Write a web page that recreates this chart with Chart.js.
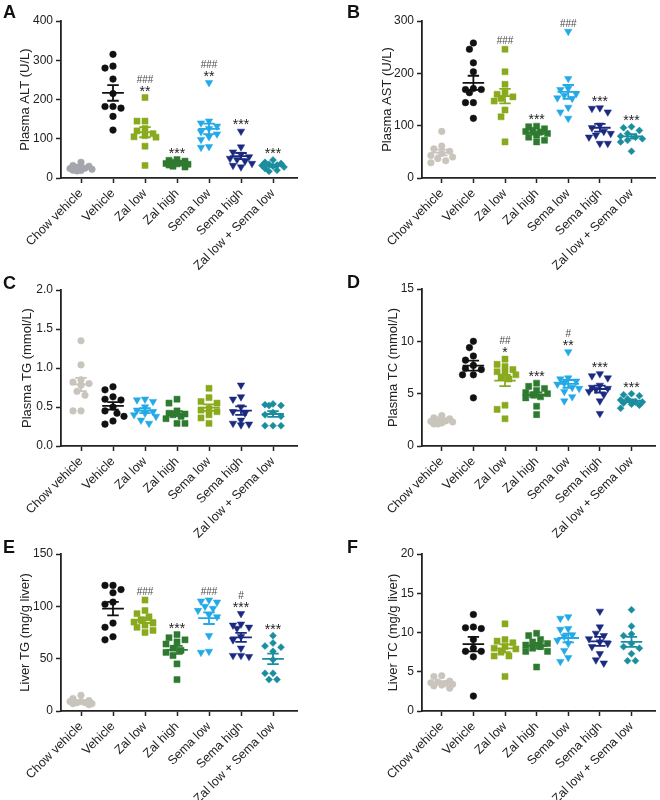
<!DOCTYPE html>
<html><head><meta charset="utf-8">
<script src="https://cdn.jsdelivr.net/npm/chart.js@4.4.0/dist/chart.umd.min.js"></script>
<style>
html,body{margin:0;padding:0;background:#fff}
body{width:660px;height:800px;position:relative;overflow:hidden;font-family:'Liberation Sans',Arial,sans-serif}
.panel{position:absolute}
.letter{position:absolute;font-weight:bold;font-size:18px;line-height:18px;color:#111;font-family:'Liberation Sans',Arial,sans-serif}
</style></head><body>
<script>
// ---------- DATA ----------
const groups = ["Chow vehicle","Vehicle","Zal low","Zal high","Sema low","Sema high","Zal low + Sema low"];

const plasmaALT = [
  [40, 32, 28, 25, 22, 20, 19, 18, 24, 30, 27],
  [315, 285, 280, 252, 215, 182, 182, 178, 157, 122],
  [205, 145, 145, 126, 120, 113, 108, 105, 104, 81, 32],
  [47, 45, 43, 40, 38, 37, 36, 35, 33, 30, 28],
  [243, 145, 140, 132, 126, 118, 112, 105, 98, 80, 78],
  [119, 79, 66, 60, 54, 50, 47, 43, 37, 32, 28],
  [46, 40, 37, 35, 33, 32, 30, 28, 24, 20, 17]
];
const plasmaAST = [
  [89, 61, 56, 51, 47, 43, 40, 37, 33, 29],
  [258, 246, 220, 203, 169, 169, 171, 163, 144, 144, 114],
  [246, 203, 179, 163, 160, 155, 152, 147, 130, 117, 69],
  [99, 98, 94, 91, 89, 88, 85, 82, 78, 72, 69],
  [280, 190, 171, 169, 161, 158, 153, 152, 135, 126, 114],
  [134, 133, 126, 101, 96, 89, 85, 82, 78, 66, 66],
  [98, 96, 91, 85, 80, 78, 75, 72, 69, 51]
];
const plasmaTG = [
  [1.35, 1.04, 0.85, 0.82, 0.80, 0.78, 0.70, 0.65, 0.45, 0.45],
  [0.76, 0.72, 0.63, 0.60, 0.59, 0.50, 0.45, 0.42, 0.38, 0.32, 0.28],
  [0.60, 0.59, 0.57, 0.50, 0.46, 0.44, 0.42, 0.40, 0.38, 0.33, 0.29],
  [0.60, 0.55, 0.45, 0.42, 0.41, 0.40, 0.38, 0.35, 0.29, 0.29],
  [0.74, 0.62, 0.57, 0.55, 0.48, 0.46, 0.44, 0.40, 0.36, 0.29],
  [0.78, 0.63, 0.60, 0.50, 0.44, 0.42, 0.33, 0.29, 0.28, 0.27],
  [0.54, 0.53, 0.52, 0.52, 0.43, 0.40, 0.38, 0.26, 0.26, 0.26]
];
const plasmaTC = [
  [2.9, 2.7, 2.6, 2.5, 2.4, 2.35, 2.3, 2.2, 2.1, 2.1],
  [10.0, 9.4, 8.6, 8.2, 7.7, 7.4, 7.3, 6.8, 6.8, 4.6],
  [8.3, 7.8, 7.6, 7.3, 7.1, 7.1, 6.8, 6.6, 6.4, 3.9, 3.5, 2.6],
  [6.0, 5.7, 5.5, 5.3, 5.1, 5.0, 4.9, 4.7, 4.6, 3.8, 3.0],
  [9.0, 6.5, 6.4, 6.2, 6.0, 5.9, 5.6, 5.5, 5.2, 4.7, 4.3],
  [6.9, 6.7, 6.5, 5.8, 5.6, 5.5, 5.4, 5.2, 4.9, 4.3, 3.1],
  [5.0, 4.9, 4.8, 4.5, 4.4, 4.2, 4.2, 4.1, 4.0, 3.9, 3.6]
];
const liverTG = [
  [15, 12, 10, 9, 9, 8, 8, 7, 7, 6],
  [120, 120, 116, 113, 104, 102, 84, 80, 71, 68],
  [106, 96, 93, 90, 87, 85, 84, 82, 80, 77, 75],
  [73, 70, 68, 66, 64, 60, 58, 56, 53, 45, 30],
  [106, 105, 104, 100, 98, 96, 92, 90, 72, 57, 56],
  [93, 83, 82, 80, 79, 71, 68, 60, 53, 53, 52],
  [72, 65, 62, 61, 57, 49, 36, 36, 30, 30]
];
const liverTC = [
  [4.5, 4.4, 3.8, 3.7, 3.6, 3.5, 3.4, 3.3, 3.2, 2.9],
  [12.3, 10.7, 10.6, 10.5, 9.1, 8.0, 7.6, 7.6, 6.9, 1.9],
  [11.1, 9.1, 8.9, 8.7, 8.2, 8.0, 7.9, 7.5, 7.0, 7.0, 4.4],
  [9.9, 9.6, 9.1, 8.8, 8.6, 8.4, 8.2, 8.0, 7.6, 7.6, 5.6],
  [12.0, 11.8, 10.5, 10.4, 9.7, 9.5, 9.0, 8.6, 7.7, 6.8, 6.3],
  [12.7, 10.7, 9.9, 9.6, 9.2, 8.8, 8.6, 8.2, 7.3, 6.5, 6.1],
  [12.9, 10.8, 9.8, 9.6, 8.6, 8.2, 8.0, 7.3, 6.4, 6.4]
];

const hashALT = ["", "", "###", "", "###", "", ""];
const starALT = ["", "", "**", "***", "**", "***", "***"];
const hashAST = ["", "", "###", "", "###", "", ""];
const starAST = ["", "", "", "***", "", "***", "***"];
const hashTG  = ["", "", "", "", "", "", ""];
const starTG  = ["", "", "", "", "", "", ""];
const hashTC  = ["", "", "##", "", "#", "", ""];
const starTC  = ["", "", "*", "***", "**", "***", "***"];
const hashLTG = ["", "", "###", "", "###", "#", ""];
const starLTG = ["", "", "", "***", "", "***", "***"];
const hashLTC = ["", "", "", "", "", "", ""];
const starLTC = ["", "", "", "", "", "", ""];

// ---------- STYLES ----------
const FONT = "'Liberation Sans', Arial, sans-serif";
const groupColors = ['#c9c4bc', '#111111', '#8aaa1e', '#2e7a30', '#22a9e6', '#1b2a80', '#1a8e9f'];
const groupShapes = ['circle', 'circle', 'rect', 'rect', 'triangle', 'triangle', 'rectRot'];
const shapeRadius = {circle: 3.3, rect: 4.3, triangle: 4.3, rectRot: 3.5};

const panels = [
  {letter:'A', values:plasmaALT, hash:hashALT, star:starALT, title:'Plasma ALT (U/L)', yMax:400, step:100, dec:0,
   left:0, top:0, axisX:61, areaTop:21, areaBottom:178, areaRight:297, titleX:25, chowColor:'#a5a5ac', styleMap:[0,1,2,3,4,5,6]},
  {letter:'B', values:plasmaAST, hash:hashAST, star:starAST, title:'Plasma AST (U/L)', yMax:300, step:100, dec:0,
   left:330, top:0, axisX:92, areaTop:21, areaBottom:178, areaRight:328, titleX:57, styleMap:[0,1,2,3,4,5,6]},
  {letter:'C', values:plasmaTG, hash:hashTG, star:starTG, title:'Plasma TG (mmol/L)', yMax:2, step:0.5, dec:1,
   left:0, top:260, axisX:61, areaTop:30, areaBottom:186, areaRight:297, titleX:27, styleMap:[0,1,4,3,2,5,6]},
  {letter:'D', values:plasmaTC, hash:hashTC, star:starTC, title:'Plasma TC (mmol/L)', yMax:15, step:5, dec:0,
   left:330, top:260, axisX:92, areaTop:29, areaBottom:186, areaRight:328, titleX:63, styleMap:[0,1,2,3,4,5,6]},
  {letter:'E', values:liverTG, hash:hashLTG, star:starLTG, title:'Liver TG (mg/g liver)', yMax:150, step:50, dec:0,
   left:0, top:520, axisX:61, areaTop:34, areaBottom:191, areaRight:297, titleX:25, styleMap:[0,1,2,3,4,5,6]},
  {letter:'F', values:liverTC, hash:hashLTC, star:starLTC, title:'Liver TC (mg/g liver)', yMax:20, step:5, dec:0,
   left:330, top:520, axisX:92, areaTop:34, areaBottom:191, areaRight:328, titleX:63, styleMap:[0,1,2,3,4,5,6]}
];

const CW = 330, CH = 280;
const X_MIN = -0.625, X_MAX = 6.75;

function mean(a){ return a.reduce((s,v)=>s+v,0)/a.length; }
function sem(a){ const m=mean(a); const v=a.reduce((s,x)=>s+(x-m)*(x-m),0)/(a.length-1); return Math.sqrt(v/a.length); }

// simple beeswarm: horizontal offsets (in category units) so markers don't overlap
function swarm(vals, pxPerUnitY, pxPerCat){
  const D = 7.2;
  const order = vals.map((v,i)=>i).sort((a,b)=>vals[b]-vals[a]);
  const cands = [0,-4,4,-8,8,-11,11];
  const placed = [], off = new Array(vals.length).fill(0);
  for (const i of order){
    const y = vals[i]*pxPerUnitY;
    let chosen = null, bestC = 0, bestD = -1;
    for (const c of cands){
      let md = Infinity;
      for (const p of placed) md = Math.min(md, Math.hypot(p.x-c, p.y-y));
      if (md >= D){ chosen = c; break; }
      if (md > bestD){ bestD = md; bestC = c; }
    }
    if (chosen === null) chosen = bestC;
    placed.push({x:chosen, y});
    off[i] = chosen/pxPerCat;
  }
  return off;
}

const sigPlugin = {
  id:'sig',
  afterDatasetsDraw(chart, args, opts){
    const p = opts.panel; if (!p) return;
    const ctx = chart.ctx, xs = chart.scales.x, ys = chart.scales.y;
    ctx.save();
    ctx.textAlign = 'center';
    ctx.textBaseline = 'alphabetic';
    p.values.forEach((vals, i) => {
      const st = p.star[i], hs = p.hash[i];
      if (!st && !hs) return;
      const x = xs.getPixelForValue(i);
      const topY = ys.getPixelForValue(Math.max(...vals));
      let cy = topY - 10;
      if (st){
        ctx.font = '14px ' + FONT; ctx.fillStyle = '#222';
        ctx.fillText(st, x, cy + 8);
        cy -= 8.5;
      } else {
        cy += 1.5;
      }
      if (hs){
        ctx.font = '10px ' + FONT; ctx.fillStyle = '#4a4a4a';
        ctx.fillText(hs, x, cy + 3.6);
      }
    });
    ctx.restore();
  }
};

panels.forEach(p => {
  const div = document.createElement('div');
  div.className = 'panel';
  div.style.left = p.left + 'px'; div.style.top = p.top + 'px';
  div.style.width = CW + 'px'; div.style.height = CH + 'px';
  const cv = document.createElement('canvas');
  cv.width = CW; cv.height = CH;
  cv.style.width = CW + 'px'; cv.style.height = CH + 'px';
  div.appendChild(cv);
  document.body.appendChild(div);

  const lt = document.createElement('div');
  lt.className = 'letter';
  lt.textContent = p.letter;
  lt.style.left = (p.left + (p.left ? 17 : 3)) + 'px';
  lt.style.top = (p.top + (p.top ? p.areaTop - 16 : 3)) + 'px';
  document.body.appendChild(lt);

  const areaH = p.areaBottom - p.areaTop;
  const areaW = p.areaRight - p.axisX;
  const pxPerCat = areaW / (X_MAX - X_MIN);
  const pxPerY = areaH / p.yMax;

  const datasets = [];
  p.values.forEach((vals, i) => {
    const si = p.styleMap[i];
    const color = (si === 0 && p.chowColor) ? p.chowColor : groupColors[si];
    const shape = groupShapes[si];
    const offs = swarm(vals, pxPerY, pxPerCat);
    datasets.push({
      type:'scatter', order:1,
      data: vals.map((v,k)=>({x: i + offs[k], y: v})),
      pointStyle: shape, pointRadius: shapeRadius[shape],
      pointRotation: shape === 'triangle' ? 180 : 0,
      backgroundColor: color, borderColor: color, borderWidth: 0.5,
      showLine:false
    });
    const m = mean(vals), s = sem(vals);
    datasets.push({
      type:'scatter', order:0, showLine:true, spanGaps:false,
      data: [
        {x:i-0.34, y:m}, {x:i+0.34, y:m}, {x:i, y:null},
        {x:i, y:m-s}, {x:i, y:m+s}, {x:i, y:null},
        {x:i-0.18, y:m+s}, {x:i+0.18, y:m+s}, {x:i, y:null},
        {x:i-0.18, y:m-s}, {x:i+0.18, y:m-s}
      ],
      borderColor: color, borderWidth: 1.8, pointRadius: 0, fill:false
    });
  });

  new Chart(cv, {
    type:'scatter',
    data:{ datasets },
    options:{
      responsive:false, animation:false, devicePixelRatio:1,
      layout:{ padding:{ left:0, top:p.areaTop, right:CW - p.areaRight, bottom:0 } },
      plugins:{ legend:{display:false}, tooltip:{enabled:false}, sig:{panel:p} },
      scales:{
        x:{
          type:'linear', min:X_MIN, max:X_MAX,
          afterBuildTicks(s){ s.ticks = groups.map((g,i)=>({value:i})); },
          afterFit(s){ s.height = CH - p.areaBottom; },
          ticks:{ autoSkip:false, minRotation:45, maxRotation:45, padding:3,
                  color:'#222', font:{family:FONT, size:12.5},
                  callback:(v)=>groups[v] },
          grid:{ drawOnChartArea:false, drawTicks:true, tickLength:5, tickWidth:1.5, tickColor:'#222' },
          border:{ display:true, color:'#222', width:1.8 }
        },
        y:{
          type:'linear', min:0, max:p.yMax,
          afterFit(s){ s.width = p.axisX; },
          ticks:{ stepSize:p.step, padding:3, color:'#222', font:{family:FONT, size:12},
                  callback:(v)=>v.toFixed(p.dec) },
          grid:{ drawOnChartArea:false, drawTicks:true, tickLength:5, tickWidth:1.5, tickColor:'#222' },
          border:{ display:true, color:'#222', width:1.8 },
          title:{ display:true, text:p.title, color:'#222', font:{family:FONT, size:13},
                  padding:{top: p.titleX - 7.8, bottom:0} }
        }
      }
    },
    plugins:[sigPlugin]
  });
});
</script>
</body></html>
